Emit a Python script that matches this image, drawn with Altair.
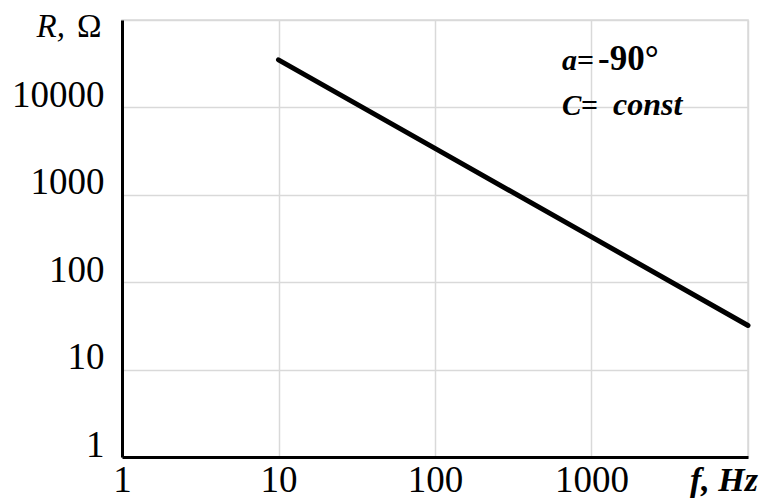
import altair as alt
import pandas as pd

# Data (log-log)
freq_hz = [10, 100, 1000, 10000]
resistance_ohm = [35000, 3400, 330, 32]
x_ticks = [1, 10, 100, 1000, 10000]
y_ticks = [1, 10, 100, 1000, 10000, 100000]

df = pd.DataFrame({"f": freq_hz, "R": resistance_ohm})

FONT = "Liberation Serif"
GRID = "#d9d9d9"

line = alt.Chart(df).mark_line(color="black", strokeWidth=5, strokeCap="round").encode(
    x=alt.X(
        "f:Q",
        scale=alt.Scale(type="log", domain=[1, 10000], nice=False),
        axis=alt.Axis(
            values=x_ticks,
            labelExpr="datum.value >= 10000 ? '' : format(datum.value, 'd')",
            title=None,
            labelPadding=5,
            labelFlush=False,
        ),
    ),
    y=alt.Y(
        "R:Q",
        scale=alt.Scale(type="log", domain=[1, 100000], nice=False),
        axis=alt.Axis(
            values=y_ticks,
            labelExpr="datum.value >= 100000 ? '' : format(datum.value, 'd')",
            title=None,
            labelPadding=18,
            labelOffset=-12,
            labelFlush=False,
        ),
    ),
)


def txt(s, x, y, size, style="normal", weight="normal", align="left"):
    return alt.Chart(pd.DataFrame({"t": [s]})).mark_text(
        text=s,
        font=FONT,
        fontSize=size,
        fontStyle=style,
        fontWeight=weight,
        align=align,
        baseline="alphabetic",
        color="black",
    ).encode(x=alt.value(x), y=alt.value(y))


labels = [
    txt("R,", -57, 17, 33, style="italic", align="right"),
    txt("Ω", -45, 17, 33),
    txt("a", 440, 50, 30, style="italic", weight="bold"),
    txt("=", 455, 50, 30, weight="bold"),
    txt("-90°", 476, 50, 35, weight="bold"),
    txt("C", 440, 95, 29, style="italic", weight="bold"),
    txt("=", 459, 95, 30, weight="bold"),
    txt("const", 491, 95, 32, style="italic", weight="bold"),
    txt("f, Hz", 636, 471, 34, style="italic", weight="bold", align="right"),
]

chart = alt.layer(line, *labels).properties(
    width=626,
    height=437,
    autosize=alt.AutoSizeParams(type="none"),
    padding={"left": 114, "top": 12, "right": 11, "bottom": 44},
    background="white",
).configure_view(
    stroke=GRID, strokeWidth=1.5
).configure_axis(
    domainColor="black",
    domainWidth=3,
    ticks=False,
    grid=True,
    gridColor=GRID,
    gridWidth=1.5,
    labelFont=FONT,
    labelFontSize=37,
    labelColor="black",
)

chart.save("out.html", embed_options={"renderer": "svg", "actions": False})
